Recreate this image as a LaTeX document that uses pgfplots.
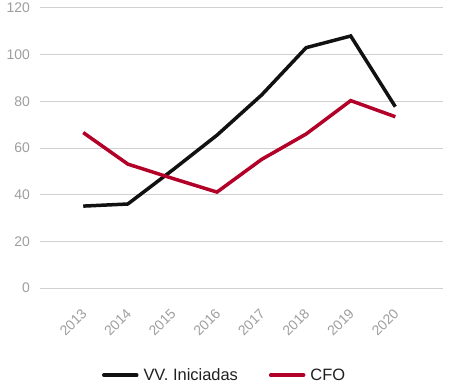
\documentclass[border=0pt]{standalone}
\usepackage{pgfplots}
\pgfplotsset{compat=1.18}
\usepackage{fontspec}
\setmainfont{Liberation Sans}
\definecolor{cfored}{RGB}{178,0,40}
\definecolor{vvblack}{RGB}{17,17,17}
\definecolor{gridgray}{RGB}{208,208,208}
\definecolor{ticklab}{RGB}{158,158,158}
\begin{document}
\begin{tikzpicture}[x=1bp,y=1bp]
\path[use as bounding box] (0,0) rectangle (450,386);
\begin{axis}[
  at={(40bp,98bp)}, anchor=south west,
  scale only axis, width=403bp, height=280bp,
  xmin=-0.97, xmax=8.07, ymin=0, ymax=120,
  axis line style={draw=none},
  xtick={0,...,7},
  xticklabels={2013,2014,2015,2016,2017,2018,2019,2020},
  ytick={0,20,...,120},
  ymajorgrids, grid style={gridgray, line width=1bp},
  major tick length=0pt,
  tick label style={font=\fontsize{14}{16}\selectfont, text=ticklab, inner sep=0pt},
  yticklabel style={anchor=east, xshift=-10bp},
  xticklabel style={xshift=1bp, yshift=-23bp, rotate=45, anchor=east},
  /pgf/number format/assume math mode=true,
  legend columns=2,
  legend style={draw=none, fill=none, at={(0.458,-0.311)}, anchor=center,
    font=\fontsize{16.5}{18}\selectfont, text=black!88,
    /tikz/every even column/.append style={column sep=29bp}},
  legend image code/.code={\draw[line width=3.5bp, line cap=round] (0bp,0bp) -- (33bp,0bp); \path (36bp,0bp);},
]
\addplot[vvblack, line width=3.5bp, line join=miter] coordinates {
(0,35.1) (1,36) (2,50.5) (3,65.5) (4,82.7) (5,103) (6,108) (7,77.7)};
\addlegendentry{VV. Iniciadas}
\addplot[cfored, line width=3.5bp, line join=miter] coordinates {
(0,66.6) (1,53.1) (2,47) (3,41.1) (4,55.1) (5,66) (6,80.3) (7,73.4)};
\addlegendentry{CFO}
\end{axis}
\end{tikzpicture}
\end{document}
